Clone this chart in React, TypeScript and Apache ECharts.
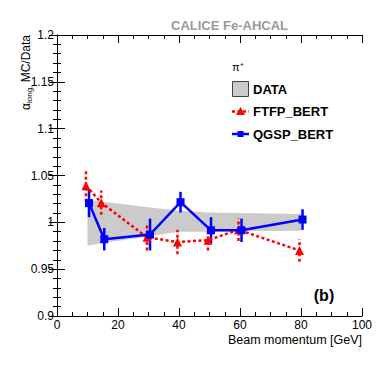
import React, { useEffect, useRef } from "react";
import * as echarts from "echarts";

// Beam momentum points [GeV]
const energies = [10, 15, 30, 40, 50, 60, 80];
// plotted positions (slightly offset in the original for visibility)
const ftfpX = [9.5, 14.5, 29.5, 39.5, 49.5, 59.5, 79.5];
const qgspX = [10.5, 15.5, 30.5, 40.5, 50.5, 60.5, 80.5];
// MC/Data ratios
const ftfp = [1.039, 1.021, 0.984, 0.979, 0.981, 0.992, 0.97];
const ftfpErr = [0.017, 0.013, 0.014, 0.013, 0.011, 0.012, 0.012];
const qgsp = [1.0205, 0.982, 0.987, 1.0215, 0.9915, 0.9915, 1.003];
const qgspErr = [0.015, 0.012, 0.017, 0.011, 0.014, 0.0125, 0.011];
// DATA uncertainty band
const bandUpper = [1.0245, 1.022, 1.016, 1.0125, 1.0105, 1.01, 1.009];
const bandLower = [0.975, 0.978, 0.985, 0.99, 0.99, 0.9905, 0.991];

const FONT = "Liberation Sans, Arial, Helvetica, sans-serif";
const RED = "#ff0000";
const BLUE = "#0000ff";

function errBarSeries(xs: number[], ys: number[], es: number[], color: string, dash: number[] | null) {
  return {
    type: "custom",
    silent: true,
    z: 3,
    data: xs.map((x, i) => [x, ys[i], es[i]]),
    encode: { x: 0, y: 1 },
    renderItem: (params: any, api: any) => {
      const x = api.value(0);
      const y = api.value(1);
      const e = api.value(2);
      const p1 = api.coord([x, y - e]);
      const p2 = api.coord([x, y + e]);
      return {
        type: "line",
        shape: { x1: p1[0], y1: p1[1], x2: p2[0], y2: p2[1] },
        style: { stroke: color, lineWidth: 2.5, lineDash: dash || undefined },
      };
    },
  };
}

export default function App() {
  const ref = useRef<HTMLDivElement>(null);
  useEffect(() => {
    if (!ref.current) return;
    const chart = echarts.init(ref.current, null, { renderer: "svg" });
    const tickCommon = {
      axisLine: { show: true, lineStyle: { color: "#000", width: 1 } },
      axisTick: { show: true, inside: true, length: 8, lineStyle: { color: "#000", width: 1 } },
      minorTick: { show: true, length: 4, lineStyle: { color: "#000", width: 1 } },
      splitLine: { show: false },
      minorSplitLine: { show: false },
    };
    const option: any = {
      animation: false,
      backgroundColor: "#fff",
      grid: { left: 57, right: 20, top: 35, bottom: 50, containLabel: false },
      xAxis: [
        {
          type: "value",
          position: "bottom",
          min: 0,
          max: 100,
          interval: 20,
          ...tickCommon,
          minorTick: { ...tickCommon.minorTick, splitNumber: 4 },
          axisLabel: { color: "#000", fontSize: 12, fontFamily: FONT, margin: 3 },
        },
        {
          type: "value",
          position: "top",
          min: 0,
          max: 100,
          interval: 20,
          ...tickCommon,
          minorTick: { ...tickCommon.minorTick, splitNumber: 4 },
          axisLabel: { show: false },
        },
      ],
      yAxis: [
        {
          type: "value",
          position: "left",
          min: 0.9,
          max: 1.2,
          interval: 0.05,
          ...tickCommon,
          minorTick: { ...tickCommon.minorTick, splitNumber: 5 },
          axisLabel: {
            color: "#000",
            fontSize: 12,
            fontFamily: FONT,
            margin: 3,
            formatter: (v: number) => String(parseFloat(v.toFixed(2))),
          },
        },
        {
          type: "value",
          position: "right",
          min: 0.9,
          max: 1.2,
          interval: 0.05,
          ...tickCommon,
          minorTick: { ...tickCommon.minorTick, splitNumber: 5 },
          axisLabel: { show: false },
        },
      ],
      series: [
        {
          type: "custom",
          name: "DATA",
          silent: true,
          z: 1,
          data: energies.map((e, i) => [e, bandLower[i], bandUpper[i]]),
          encode: { x: 0, y: 1 },
          renderItem: (params: any, api: any) => {
            if (params.dataIndex !== 0) return null;
            const pts: number[][] = [];
            energies.forEach((e, i) => pts.push(api.coord([e, bandUpper[i]])));
            for (let i = energies.length - 1; i >= 0; i--) pts.push(api.coord([energies[i], bandLower[i]]));
            return { type: "polygon", shape: { points: pts }, style: { fill: "#cbcbcb", stroke: "none" } };
          },
        },
        errBarSeries(ftfpX, ftfp, ftfpErr, RED, [3, 2.5]),
        {
          type: "line",
          name: "FTFP_BERT",
          z: 4,
          data: ftfpX.map((x, i) => [x, ftfp[i]]),
          symbol: "triangle",
          symbolSize: 9,
          itemStyle: { color: RED },
          lineStyle: { color: RED, width: 2.5, type: [3, 2.5] },
        },
        errBarSeries(qgspX, qgsp, qgspErr, BLUE, null),
        {
          type: "line",
          name: "QGSP_BERT",
          z: 5,
          data: qgspX.map((x, i) => [x, qgsp[i]]),
          symbol: "rect",
          symbolSize: 8,
          itemStyle: { color: BLUE },
          lineStyle: { color: BLUE, width: 2.5 },
        },
      ],
      graphic: [
        {
          type: "text",
          x: 288,
          y: 25,
          style: {
            text: "CALICE Fe-AHCAL",
            fill: "#9a9a9a",
            font: `bold 13px ${FONT}`,
            align: "right",
            verticalAlign: "middle",
          },
        },
        {
          type: "text",
          x: 26,
          y: 35,
          rotation: Math.PI / 2,
          style: {
            text: "{a|α}{s|long}{s|,}{a| MC/Data}",
            align: "right",
            verticalAlign: "middle",
            rich: {
              a: { fontSize: 12, fontFamily: FONT, fill: "#000", lineHeight: 14, verticalAlign: "middle" },
              s: { fontSize: 8, fontFamily: FONT, fill: "#000", lineHeight: 8, verticalAlign: "bottom" },
            },
          },
        },
        {
          type: "text",
          x: 362,
          y: 340,
          style: {
            text: "Beam momentum [GeV]",
            fill: "#000",
            font: `12.5px ${FONT}`,
            align: "right",
            verticalAlign: "middle",
          },
        },
        {
          type: "text",
          x: 324,
          y: 295,
          style: { text: "(b)", fill: "#000", font: `bold 16px ${FONT}`, align: "center", verticalAlign: "middle" },
        },
        {
          type: "text",
          x: 232,
          y: 67,
          style: { text: "π⁺", fill: "#000", font: `11px ${FONT}`, align: "left", verticalAlign: "middle" },
        },
        {
          type: "rect",
          shape: { x: 232.5, y: 81.5, width: 16, height: 15 },
          style: { fill: "#cbcbcb", stroke: "#444", lineWidth: 1 },
        },
        {
          type: "text",
          x: 253,
          y: 89,
          style: { text: "DATA", fill: "#000", font: `bold 13px ${FONT}`, align: "left", verticalAlign: "middle" },
        },
        {
          type: "line",
          shape: { x1: 232, y1: 111.5, x2: 249, y2: 111.5 },
          style: { stroke: RED, lineWidth: 2.5, lineDash: [3, 2.5] },
        },
        {
          type: "polygon",
          shape: { points: [[240.5, 107], [245, 115], [236, 115]] },
          style: { fill: RED },
        },
        {
          type: "text",
          x: 253,
          y: 111.5,
          style: { text: "FTFP_BERT", fill: "#000", font: `bold 13px ${FONT}`, align: "left", verticalAlign: "middle" },
        },
        {
          type: "line",
          shape: { x1: 232, y1: 134, x2: 249, y2: 134 },
          style: { stroke: BLUE, lineWidth: 2.5 },
        },
        {
          type: "rect",
          shape: { x: 237.5, y: 131, width: 6, height: 6 },
          style: { fill: BLUE },
        },
        {
          type: "text",
          x: 253,
          y: 134,
          style: { text: "QGSP_BERT", fill: "#000", font: `bold 13px ${FONT}`, align: "left", verticalAlign: "middle" },
        },
      ],
    };
    chart.setOption(option);
    return () => chart.dispose();
  }, []);
  return (
    <div
      ref={ref}
      style={{ position: "fixed", left: 0, top: 0, width: 382, height: 366, background: "#fff" }}
    />
  );
}
